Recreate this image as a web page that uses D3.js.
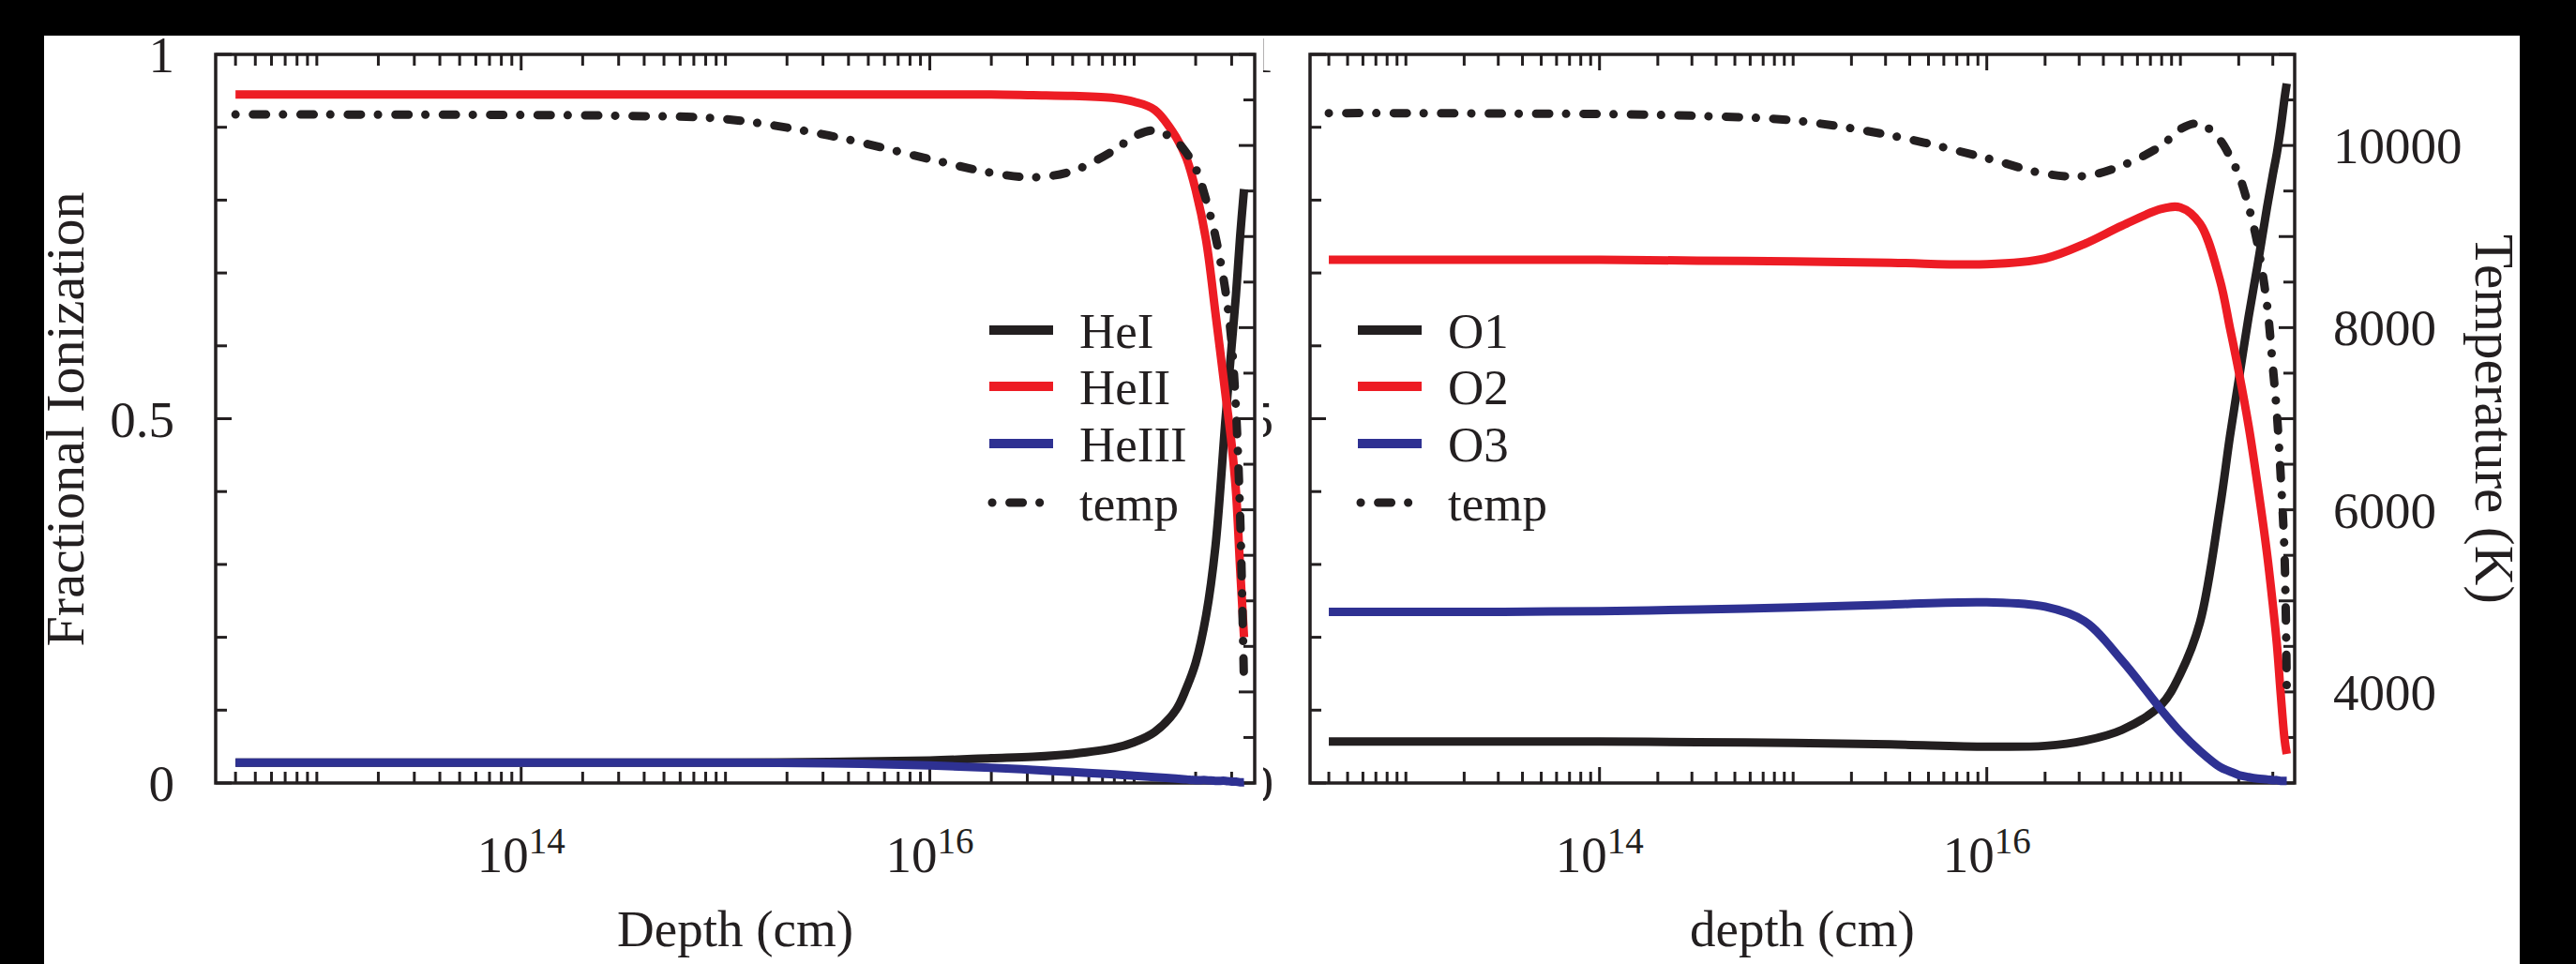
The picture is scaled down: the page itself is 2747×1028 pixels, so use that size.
<!DOCTYPE html>
<html>
<head>
<meta charset="utf-8">
<script src="https://cdn.jsdelivr.net/npm/d3@7/dist/d3.min.js"></script>
<style>
  body { margin: 0; background: #000; }
  text { font-family: "Liberation Serif", "DejaVu Serif", serif; fill: #231f20; }
</style>
</head>
<body>
<div id="chart-area"></div>
<script>
/*
*    ionization profiles, He (left) and O (right)
*/
var depthHe = [4e12, 1e13, 3.2e13, 1e14, 3.2e14, 1e15, 3.2e15, 1e16, 2e16, 3.2e16, 5e16, 8e16,
  1e17, 1.26e17, 1.6e17, 1.8e17, 2e17, 2.25e17, 2.5e17, 2.8e17, 3e17, 3.15e17, 3.3e17, 3.45e17];
var heI   = [0.028, 0.028, 0.028, 0.028, 0.028, 0.028, 0.029, 0.031, 0.034, 0.036, 0.04, 0.048,
  0.056, 0.07, 0.1, 0.13, 0.165, 0.23, 0.325, 0.5, 0.6, 0.67, 0.75, 0.815];
var heII  = [0.945, 0.945, 0.945, 0.945, 0.945, 0.945, 0.945, 0.945, 0.945, 0.944, 0.943, 0.94,
  0.935, 0.924, 0.887, 0.858, 0.814, 0.745, 0.645, 0.533, 0.465, 0.4, 0.295, 0.2];
var heIII = [0.028, 0.028, 0.028, 0.028, 0.028, 0.028, 0.027, 0.024, 0.021, 0.018, 0.015, 0.012,
  0.01, 0.008, 0.006, 0.005, 0.004, 0.004, 0.003, 0.003, 0.002, 0.002, 0.001, 0.001];
var tempHe = [10340, 10340, 10338, 10335, 10325, 10290, 10110, 9850, 9700, 9650, 9720, 9950,
  10100, 10165, 10050, 9920, 9750, 9400, 9000, 8400, 7830, 7100, 5950, 4060];

var depthO = [4e12, 1e13, 3.2e13, 1e14, 3.2e14, 1e15, 3.2e15, 1e16, 2e16, 3.2e16, 5e16, 8e16,
  1e17, 1.26e17, 1.6e17, 1.8e17, 2e17, 2.25e17, 2.5e17, 2.8e17, 3e17, 3.15e17, 3.3e17, 3.45e17, 3.54e17];
var o1 = [0.057, 0.057, 0.057, 0.057, 0.056, 0.055, 0.053, 0.05, 0.051, 0.058, 0.073, 0.108,
  0.15, 0.22, 0.378, 0.475, 0.553, 0.64, 0.71, 0.79, 0.835, 0.865, 0.9, 0.94, 0.96];
var o2 = [0.718, 0.718, 0.718, 0.718, 0.717, 0.716, 0.714, 0.712, 0.72, 0.74, 0.765, 0.788,
  0.79, 0.768, 0.69, 0.625, 0.565, 0.49, 0.41, 0.315, 0.245, 0.19, 0.12, 0.06, 0.04];
var o3 = [0.235, 0.235, 0.235, 0.236, 0.238, 0.241, 0.245, 0.248, 0.242, 0.222, 0.168, 0.1,
  0.07, 0.044, 0.022, 0.016, 0.011, 0.008, 0.006, 0.005, 0.004, 0.004, 0.003, 0.003, 0.003];
var tempO = [10355, 10355, 10350, 10345, 10325, 10275, 10110, 9860, 9690, 9665, 9780, 10000,
  10180, 10240, 10060, 9880, 9680, 9330, 8920, 8250, 7570, 7050, 6350, 5500, 4060];

var fracTicks = d3.range(0, 11).map((i) => i / 10);
var fracLabels = ["0", "0.5", "1"];
var tempTicks = d3.range(3000, 11001, 500);
var tempLabels = [4000, 6000, 8000, 10000];
var depthLabels = [1e14, 1e16];

var namesHe = ["HeI", "HeII", "HeIII", "temp"];
var namesO = ["O1", "O2", "O3", "temp"];
var colors = ["#231f20", "#ed1c24", "#2e3192", "#231f20"];

var W = 2747, H = 1028;
var svg = d3.select("#chart-area").append("svg")
  .attr("width", W)
  .attr("height", H)
  .style("display", "block");

svg.append("rect")
  .attr("x", 47).attr("y", 38)
  .attr("width", 2640).attr("height", H - 38)
  .attr("fill", "#fff");

var top_ = 58, bottom = 835;
var y = d3.scaleLinear().domain([0, 1]).range([bottom, top_]);
var yT = d3.scaleLinear().domain([3000, 11000]).range([bottom, top_]);
var dash = "0.1 18.5 14 18";
var ink = "#231f20";

function panel(left, right, depth, series, temp, names, legendX, xTitle) {
  var x = d3.scaleLog().domain([Math.pow(10, 12.505), Math.pow(10, 17.59)]).range([left, right]);
  var g = svg.append("g");

  // frame
  g.append("rect")
    .attr("x", left).attr("y", top_)
    .attr("width", right - left).attr("height", bottom - top_)
    .attr("fill", "none").attr("stroke", ink).attr("stroke-width", 3.5);

  // log ticks top & bottom
  x.ticks().forEach((t) => {
    var e = Math.log10(t);
    var big = Math.abs(e - Math.round(e)) < 1e-9 && (Math.round(e) === 14 || Math.round(e) === 16);
    var len = big ? 17 : 12;
    [[bottom, bottom - len], [top_, top_ + len]].forEach((p) => {
      g.append("line")
        .attr("x1", x(t)).attr("x2", x(t))
        .attr("y1", p[0]).attr("y2", p[1])
        .attr("stroke", ink).attr("stroke-width", 3);
    });
  });

  fracTicks.forEach((t, i) => {
    var len = i % 5 === 0 ? 17 : 12;
    g.append("line")
      .attr("x1", left).attr("x2", left + len)
      .attr("y1", y(t)).attr("y2", y(t))
      .attr("stroke", ink).attr("stroke-width", 3);
  });
  tempTicks.forEach((t) => {
    var len = t % 1000 === 0 ? 17 : 12;
    g.append("line")
      .attr("x1", right).attr("x2", right - len)
      .attr("y1", yT(t)).attr("y2", yT(t))
      .attr("stroke", ink).attr("stroke-width", 3);
  });

  depthLabels.forEach((t) => {
    var txt = g.append("text")
      .attr("x", x(t)).attr("y", 930)
      .attr("text-anchor", "middle")
      .style("font-size", "55px");
    txt.append("tspan").text("10");
    txt.append("tspan").attr("dy", -20).style("font-size", "39px")
      .text(String(Math.round(Math.log10(t))));
  });

  g.append("text")
    .attr("x", (left + right) / 2).attr("y", 1009)
    .attr("text-anchor", "middle")
    .style("font-size", "55px")
    .text(xTitle);

  // curves
  var line = d3.line()
    .x((d) => x(d[0]))
    .curve(d3.curveCatmullRom.alpha(0.5));
  series.forEach((s, i) => {
    g.append("path")
      .attr("d", line.y((d) => y(d[1]))(depth.map((d, j) => [d, s[j]])))
      .attr("fill", "none")
      .attr("stroke", colors[i])
      .attr("stroke-width", 9)
      .attr("stroke-linejoin", "round");
  });
  g.append("path")
    .attr("d", line.y((d) => yT(d[1]))(depth.map((d, j) => [d, temp[j]])))
    .attr("fill", "none")
    .attr("stroke", ink)
    .attr("stroke-width", 9)
    .attr("stroke-linecap", "round")
    .attr("stroke-dasharray", dash);

  // legend
  var ly = [352, 412, 473, 536];
  names.forEach((n, i) => {
    var l = g.append("line")
      .attr("x1", legendX + (i === 3 ? 3 : 0)).attr("x2", legendX + 68)
      .attr("y1", ly[i]).attr("y2", ly[i])
      .attr("stroke", colors[i])
      .attr("stroke-width", 10);
    if (i === 3) l.attr("stroke-linecap", "round").attr("stroke-dasharray", dash).attr("stroke-width", 9);
    g.append("text")
      .attr("x", legendX + 96).attr("y", ly[i] + 19)
      .style("font-size", "53px")
      .text(n);
  });
  return x;
}

panel(230, 1338, depthHe, [heI, heII, heIII], tempHe, namesHe, 1055, "Depth (cm)");
panel(1397, 2447, depthO, [o1, o2, o3], tempO, namesO, 1448, "depth (cm)");

// left axis labels (left panel)
fracLabels.forEach((s) => {
  svg.append("text")
    .attr("x", 186).attr("y", y(+s) + 19)
    .attr("text-anchor", "end")
    .style("font-size", "55px")
    .text(s);
});

// cut-off labels of the right panel, only their right edges show
svg.append("clipPath").attr("id", "cut")
  .append("rect").attr("x", 1347).attr("y", 38).attr("width", 45).attr("height", 990);
fracLabels.forEach((s) => {
  svg.append("text")
    .attr("clip-path", "url(#cut)")
    .attr("x", 1358).attr("y", y(+s) + 19)
    .attr("text-anchor", "end")
    .style("font-size", "55px")
    .text(s);
});

tempLabels.forEach((t) => {
  svg.append("text")
    .attr("x", 2488).attr("y", yT(t) + 19)
    .style("font-size", "55px")
    .text(t);
});

svg.append("text")
  .attr("transform", "translate(89,447) rotate(-90)")
  .attr("text-anchor", "middle")
  .style("font-size", "58px")
  .text("Fractional Ionization");

svg.append("text")
  .attr("transform", "translate(2640,447) rotate(90)")
  .attr("text-anchor", "middle")
  .style("font-size", "59px")
  .text("Temperature (K)");
</script>
</body>
</html>
